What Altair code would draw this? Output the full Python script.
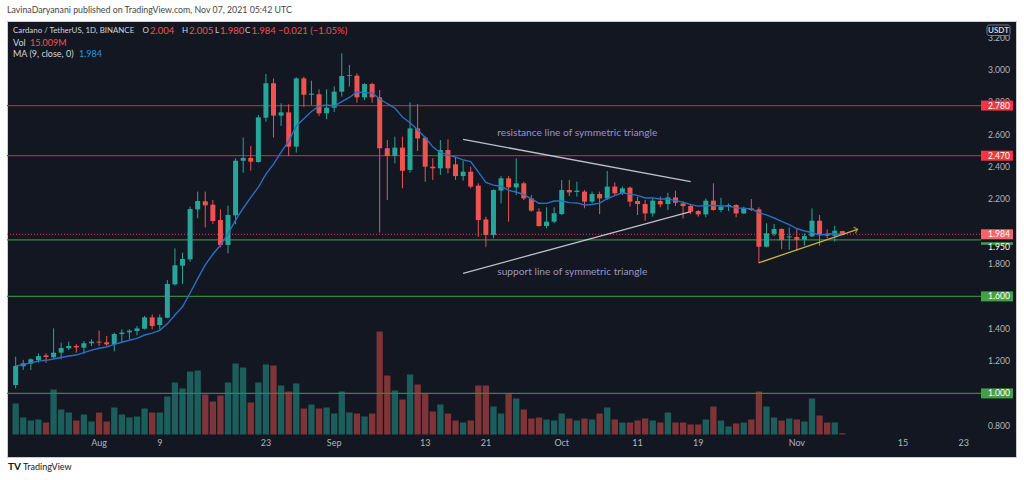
import altair as alt
import pandas as pd

# ---------------- data ----------------
dates = pd.date_range("2021-07-21", "2021-11-07", freq="D").strftime("%Y-%m-%d").tolist()

opens = [1.052, 1.168, 1.184, 1.205, 1.235, 1.223, 1.252, 1.279, 1.293, 1.283,
         1.310, 1.320, 1.316, 1.305, 1.367, 1.378, 1.386, 1.400, 1.470, 1.423,
         1.468, 1.674, 1.790, 1.829, 2.138, 2.188, 2.167, 2.072, 1.918, 2.101,
         2.439, 2.456, 2.431, 2.705, 2.918, 2.718, 2.738, 2.526, 2.948, 2.847,
         2.850, 2.732, 2.767, 2.866, 2.963, 2.965, 2.831, 2.913, 2.831, 2.516,
         2.468, 2.520, 2.382, 2.639, 2.582, 2.402, 2.392, 2.505, 2.417, 2.344,
         2.371, 2.285, 2.076, 1.980, 2.254, 2.330, 2.274, 2.299, 2.206, 2.124,
         2.035, 2.062, 2.109, 2.258, 2.246, 2.248, 2.186, 2.233, 2.206, 2.279,
         2.237, 2.272, 2.190, 2.171, 2.113, 2.190, 2.171, 2.212, 2.175, 2.159,
         2.128, 2.107, 2.192, 2.134, 2.155, 2.165, 2.113, 2.144, 2.138, 1.907,
         1.986, 2.017, 1.965, 1.967, 1.950, 1.971, 2.068, 1.986, 1.975, 2.004]
highs = [1.227, 1.207, 1.217, 1.248, 1.248, 1.402, 1.314, 1.320, 1.305, 1.324,
         1.334, 1.388, 1.355, 1.376, 1.396, 1.396, 1.417, 1.479, 1.488, 1.488,
         1.701, 1.897, 1.870, 2.155, 2.248, 2.248, 2.196, 2.138, 2.161, 2.454,
         2.582, 2.530, 2.722, 2.975, 2.948, 2.794, 2.788, 2.955, 2.958, 2.934,
         2.880, 2.880, 2.900, 3.103, 3.031, 2.979, 2.918, 2.922, 2.876, 2.567,
         2.588, 2.588, 2.800, 2.790, 2.588, 2.454, 2.567, 2.571, 2.464, 2.439,
         2.402, 2.299, 2.093, 2.262, 2.344, 2.344, 2.454, 2.309, 2.227, 2.145,
         2.151, 2.151, 2.320, 2.320, 2.309, 2.258, 2.248, 2.248, 2.375, 2.305,
         2.279, 2.279, 2.217, 2.196, 2.206, 2.217, 2.241, 2.254, 2.186, 2.171,
         2.134, 2.206, 2.299, 2.210, 2.175, 2.171, 2.155, 2.202, 2.151, 2.052,
         2.047, 2.021, 2.027, 2.021, 1.990, 2.144, 2.103, 2.015, 2.037, 2.005]
lows = [1.031, 1.145, 1.145, 1.190, 1.190, 1.217, 1.211, 1.268, 1.252, 1.244,
        1.293, 1.293, 1.293, 1.260, 1.314, 1.334, 1.359, 1.396, 1.396, 1.396,
        1.464, 1.668, 1.677, 1.815, 2.083, 2.027, 2.048, 1.903, 1.866, 2.046,
        2.365, 2.377, 2.427, 2.680, 2.582, 2.654, 2.468, 2.489, 2.773, 2.784,
        2.716, 2.695, 2.740, 2.835, 2.897, 2.798, 2.814, 2.798, 1.994, 2.196,
        2.423, 2.268, 2.365, 2.499, 2.309, 2.320, 2.351, 2.361, 2.320, 2.316,
        2.268, 1.969, 1.907, 1.959, 2.175, 2.062, 2.227, 2.196, 2.124, 2.031,
        2.021, 2.052, 2.103, 2.221, 2.217, 2.145, 2.175, 2.109, 2.196, 2.221,
        2.227, 2.155, 2.103, 2.068, 2.093, 2.151, 2.134, 2.159, 2.082, 2.109,
        2.093, 2.089, 2.130, 2.120, 2.128, 2.089, 2.109, 2.128, 1.804, 1.903,
        1.973, 1.892, 1.888, 1.882, 1.913, 1.967, 1.913, 1.959, 1.938, 1.980]
closes = [1.170, 1.186, 1.211, 1.231, 1.225, 1.252, 1.281, 1.293, 1.285, 1.310,
          1.320, 1.314, 1.303, 1.367, 1.376, 1.388, 1.402, 1.470, 1.417, 1.470,
          1.677, 1.792, 1.831, 2.140, 2.190, 2.163, 2.066, 1.918, 2.103, 2.439,
          2.456, 2.433, 2.707, 2.918, 2.718, 2.738, 2.526, 2.948, 2.847, 2.854,
          2.732, 2.767, 2.866, 2.963, 2.968, 2.831, 2.913, 2.831, 2.516, 2.468,
          2.520, 2.377, 2.639, 2.577, 2.402, 2.392, 2.505, 2.392, 2.344, 2.371,
          2.279, 2.072, 1.980, 2.258, 2.330, 2.274, 2.299, 2.206, 2.130, 2.035,
          2.062, 2.114, 2.258, 2.243, 2.254, 2.186, 2.233, 2.206, 2.279, 2.237,
          2.268, 2.186, 2.171, 2.113, 2.192, 2.169, 2.212, 2.179, 2.159, 2.124,
          2.107, 2.192, 2.134, 2.155, 2.165, 2.113, 2.148, 2.134, 1.907, 1.990,
          2.017, 1.948, 1.971, 1.950, 1.973, 2.068, 1.981, 1.975, 2.006, 1.984]
volumes = [372, 204, 168, 180, 144, 540, 300, 264, 168, 240,
           156, 264, 156, 324, 240, 204, 216, 312, 264, 264,
           456, 624, 552, 756, 768, 480, 396, 468, 624, 852,
           804, 384, 624, 840, 828, 588, 516, 612, 312, 360,
           312, 324, 252, 516, 264, 252, 216, 252, 1236, 708,
           528, 420, 720, 600, 492, 276, 360, 252, 168, 144,
           168, 588, 588, 336, 252, 492, 432, 300, 192, 204,
           180, 168, 252, 192, 168, 192, 180, 252, 324, 180,
           144, 144, 168, 192, 168, 144, 264, 144, 144, 120,
           120, 180, 336, 168, 96, 132, 144, 180, 516, 336,
           204, 168, 192, 180, 156, 432, 228, 144, 144, 15.009]

levels = [2.780, 2.470, 1.950, 1.600, 1.000]
# price-scale labels that are visible (the others sit under the level boxes)
price_ticks = [0.8, 1.2, 1.4, 1.8, 2.2, 2.4, 2.6, 2.8, 3.0, 3.2]
date_ticks = ["2021-08-01", "2021-08-09", "2021-08-23", "2021-09-01", "2021-09-13",
              "2021-09-21", "2021-10-01", "2021-10-11", "2021-10-19", "2021-11-01",
              "2021-11-15", "2021-11-23"]

tri_line = ["resistance", "resistance", "support", "support"]
tri_date = ["2021-09-18", "2021-10-18", "2021-09-18", "2021-10-18"]
tri_price = [2.571, 2.309, 1.743, 2.124]

brk_date = ["2021-10-27", "2021-11-09"]
brk_price = [1.808, 2.015]

note_text = ["resistance line of symmetric triangle", "support line of symmetric triangle"]
note_date = ["2021-09-22T12:00:00Z", "2021-09-22T12:00:00Z"]
note_price = [2.609, 1.749]

# ---------------- styling ----------------
BG = "#131722"
UP, DOWN = "#26a69a", "#ef5350"
VUP, VDOWN = "#1c5e5c", "#7f3438"
AXC = "#b2b5be"
FONT = "Lato"

df = pd.DataFrame({"date": dates, "open": opens, "high": highs, "low": lows,
                   "close": closes, "volume": volumes})
base = alt.Chart(df)

x0 = pd.Timestamp("2021-07-21", tz="UTC") - pd.Timedelta(days=0.483)
x1 = pd.Timestamp("2021-07-21", tz="UTC") + pd.Timedelta(days=131.24)
xscale = alt.Scale(type="utc", domain=[int(x0.value // 10**6), int(x1.value // 10**6)])
X = alt.X("date:T", scale=xscale, axis=None, title=None)

yscale = alt.Scale(domain=[0.6067, 3.303], zero=False, nice=False)

up_cond = "datum.close >= datum.open"

# volume (own scale, bottom band)
vol = base.mark_bar(width=6.3).encode(
    x=X,
    y=alt.Y("volume:Q", scale=alt.Scale(domain=[0, 4962], range=[413.5, 0]), axis=None),
    color=alt.condition(up_cond, alt.value(VUP), alt.value(VDOWN)),
)

# time-axis labels (positioned through the x scale)
date_labels = alt.Chart(pd.DataFrame({"date": date_ticks})).transform_calculate(
    lab="utcdate(toDate(datum.date)) == 1 ? utcFormat(toDate(datum.date), '%b') : utcFormat(toDate(datum.date), '%-d')"
).mark_text(align="center", baseline="middle", color=AXC, fontSize=9, font=FONT).encode(
    x=X, y=alt.value(422), text="lab:N")

# price-axis labels (positioned through the y scale)
price_labels = alt.Chart(pd.DataFrame({"p": price_ticks})).mark_text(
    align="left", baseline="middle", color=AXC, fontSize=8.6, font=FONT).encode(
    y=alt.Y("p:Q", scale=yscale, axis=None), x=alt.value(981),
    text=alt.Text("p:Q", format=".3f"))

# horizontal levels
lv = alt.Chart(pd.DataFrame({"level": levels}))
level_rules = lv.mark_rule(strokeWidth=1.3).encode(
    y=alt.Y("level:Q", scale=yscale, axis=None),
    x=alt.value(0), x2=alt.value(974),
    color=alt.condition("datum.level > 2", alt.value("#b5262d"), alt.value("#2f8a3c")),
)
last_df = pd.DataFrame({"level": [closes[-1]]})
last_rule = alt.Chart(last_df).mark_rule(strokeWidth=1, strokeDash=[1, 2], color="#e5484d", opacity=0.9).encode(
    y=alt.Y("level:Q", scale=yscale, axis=None), x=alt.value(0), x2=alt.value(974))

wicks = base.mark_rule(strokeWidth=1).encode(
    x=X, y=alt.Y("low:Q", scale=yscale, axis=None), y2="high:Q",
    color=alt.condition(up_cond, alt.value(UP), alt.value(DOWN)))
bodies = base.mark_bar(width=5).encode(
    x=X, y=alt.Y("open:Q", scale=yscale, axis=None), y2="close:Q",
    color=alt.condition(up_cond, alt.value(UP), alt.value(DOWN)))

ma = base.transform_window(ma="mean(close)", frame=[-8, 0], sort=[alt.SortField("date")]).mark_line(
    color="#2a6fc4", strokeWidth=1.4).encode(x=X, y=alt.Y("ma:Q", scale=yscale, axis=None))

tri = alt.Chart(pd.DataFrame({"line": tri_line, "date": tri_date, "price": tri_price})).mark_line(
    color="#d1d4dc", strokeWidth=1.3, opacity=0.9).encode(
    x=X, y=alt.Y("price:Q", scale=yscale, axis=None), detail="line:N")

brk_df = pd.DataFrame({"date": brk_date, "price": brk_price})
brk = alt.Chart(brk_df).mark_line(color="#c9b23a", strokeWidth=1.3).encode(
    x=X, y=alt.Y("price:Q", scale=yscale, axis=None))
arrow = alt.Chart(brk_df.iloc[[-1]]).mark_point(
    shape="M-1,-1L0,0L-1,1", filled=False, size=40, angle=343, color="#c9b23a", strokeWidth=1.3).encode(
    x=X, y=alt.Y("price:Q", scale=yscale, axis=None))

notes = alt.Chart(pd.DataFrame({"t": note_text, "date": note_date, "price": note_price})).mark_text(
    align="left", baseline="middle", color="#9d92c9", fontSize=10.2, font=FONT).encode(
    x=X, y=alt.Y("price:Q", scale=yscale, axis=None), text="t:N")

def price_box(data, fill, dy=0):
    c = alt.Chart(data).transform_calculate(top="datum.level + 0.031", bot="datum.level - 0.031")
    r = c.mark_rect(yOffset=dy).encode(
        y=alt.Y("top:Q", scale=yscale, axis=None), y2="bot:Q",
        x=alt.value(974), x2=alt.value(1006), color=fill)
    t = c.mark_text(yOffset=dy, color="white", fontSize=8.6, font=FONT, align="left", baseline="middle").encode(
        y=alt.Y("level:Q", scale=yscale, axis=None), x=alt.value(981), text=alt.Text("level:Q", format=".3f"))
    return r + t

red_lv = pd.DataFrame({"level": [v for v in levels if v > 2]})
grn_lv = pd.DataFrame({"level": [v for v in levels if v < 2 and v != 1.95]})
shift_lv = pd.DataFrame({"level": [1.95]})
boxes = (price_box(red_lv, alt.value("#f23645"))
         + price_box(grn_lv, alt.value("#43a047"))
         + price_box(last_df, alt.value("#f0666b"))
         + price_box(shift_lv, alt.value("#43a047"), dy=7.5))

price = alt.layer(price_labels, level_rules, last_rule, wicks, bodies, ma, tri, brk, arrow, notes, boxes)

def txt(s, vx, vy, color, size=9.0, weight="normal", align="left"):
    return alt.Chart(pd.DataFrame({"t": [s]})).mark_text(
        align=align, baseline="middle", color=color, fontSize=size, fontWeight=weight, font=FONT).encode(
        x=alt.value(vx), y=alt.value(vy), text="t:N")

one = pd.DataFrame({"k": [0]})
usdt_box = alt.Chart(one).mark_rect(fill=BG, stroke="#787b86", strokeWidth=1, cornerRadius=2).encode(
    x=alt.value(980), x2=alt.value(1003), y=alt.value(4), y2=alt.value(14.5))

W = "#d1d4dc"
overlay = alt.layer(
    date_labels,
    usdt_box,
    txt("USDT", 991.5, 9.5, W, 8, "bold", "center"),
    txt("LavinaDaryanani published on TradingView.com, Nov 07, 2021 05:42 UTC", 0, -11, "#444444", 8.8),
    txt("Cardano / TetherUS, 1D, BINANCE", 6, 10, W, 7.9),
    txt("O", 135.5, 10, W, 8), txt("2.004", 143, 10, DOWN, 9.5),
    txt("H", 175, 10, W, 8), txt("2.005", 182, 10, DOWN, 9.5),
    txt("L", 208, 10, W, 8), txt("1.980", 213, 10, DOWN, 9.5),
    txt("C", 238, 10, W, 8), txt("1.984", 244.5, 10, DOWN, 9.5),
    txt("\u22120.021 (\u22121.05%)", 271, 10, DOWN, 9.5),
    txt("Vol", 6, 22, W), txt("15.009M", 23, 22, DOWN),
    txt("MA (9, close, 0)", 6, 33, W), txt("1.984", 72, 33, "#2196f3"),
    txt("TV", 1, 446, "#131722", 10, "bold"),
    txt("TradingView", 16, 446, "#131722", 9),
)

chart = alt.layer(vol, price, overlay).resolve_scale(y="independent").properties(
    width=1009, height=436, autosize="none",
    padding={"left": 7, "top": 21, "right": 8, "bottom": 23},
    background="white",
).configure_view(fill=BG, stroke="#c9ccd3", strokeWidth=1)

chart.save("out.html", embed_options={"renderer": "svg", "actions": False})
